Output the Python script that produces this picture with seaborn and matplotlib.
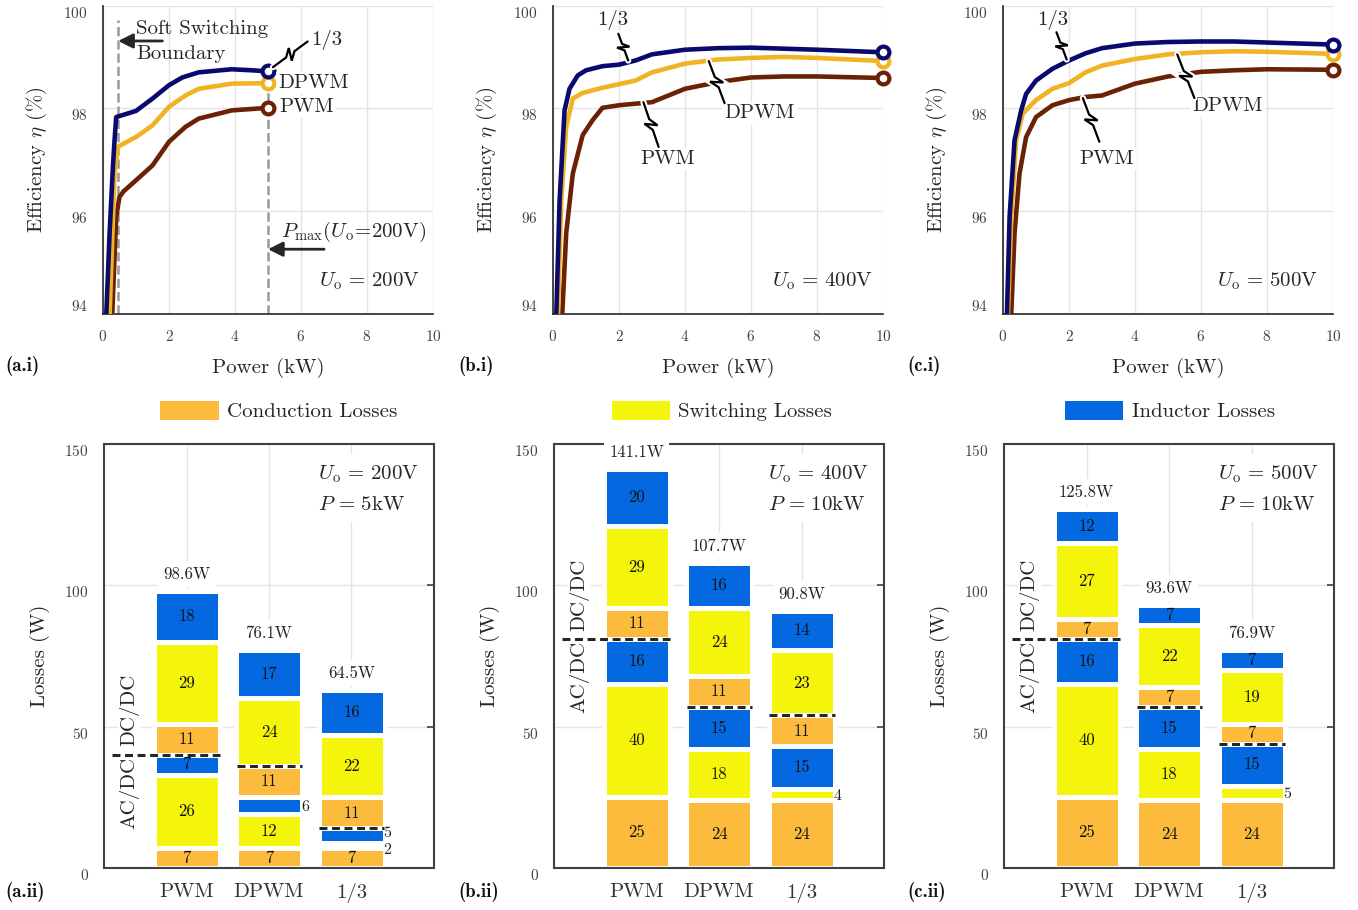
import numpy as np
import matplotlib
matplotlib.use('Agg')
import matplotlib.pyplot as plt
import matplotlib.patheffects as pe
from matplotlib.patches import Patch
import seaborn as sns

sns.set_style('white')
plt.rcParams['font.family'] = ['cmr10', 'DejaVu Serif']
plt.rcParams['mathtext.fontset'] = 'cm'
plt.rcParams['axes.formatter.use_mathtext'] = True
plt.rcParams['axes.unicode_minus'] = False

# ---------------- efficiency curves ----------------
p_a_13 = [0.1, 0.2, 0.3, 0.35, 0.4, 0.9, 1.0, 1.5, 2.0, 2.4, 2.9, 3.9, 4.5, 5.0]
eta_a_13 = [94.0, 95.57, 96.86, 97.38, 97.83, 97.93, 97.95, 98.19, 98.45, 98.6, 98.7, 98.76, 98.74, 98.72]
p_a_dpwm = [0.2, 0.35, 0.45, 0.9, 1.0, 1.5, 2.0, 2.5, 2.9, 3.9, 5.0]
eta_a_dpwm = [94.0, 96.73, 97.25, 97.41, 97.44, 97.67, 98.03, 98.25, 98.38, 98.48, 98.49]
p_a_pwm = [0.28, 0.4, 0.5, 0.63, 1.0, 1.5, 2.0, 2.5, 2.9, 3.9, 5.0]
eta_a_pwm = [94.0, 95.89, 96.28, 96.39, 96.6, 96.89, 97.35, 97.64, 97.8, 97.96, 98.01]

p_b_13 = [0.1, 0.2, 0.35, 0.5, 0.75, 1.0, 1.5, 2.0, 2.5, 3.0, 4, 5, 6, 7, 8, 10]
eta_b_13 = [94.0, 96.21, 97.96, 98.38, 98.64, 98.74, 98.82, 98.85, 98.93, 99.05, 99.14, 99.17, 99.18, 99.16, 99.14, 99.09]
p_b_dpwm = [0.15, 0.25, 0.4, 0.6, 0.9, 1.5, 2.0, 2.5, 3.0, 4, 5, 6, 7, 8, 10]
eta_b_dpwm = [94.0, 96.21, 97.64, 98.19, 98.3, 98.4, 98.47, 98.54, 98.7, 98.87, 98.95, 98.98, 99.0, 98.98, 98.92]
p_b_pwm = [0.28, 0.4, 0.6, 0.9, 1.2, 1.5, 2.0, 2.5, 3.0, 4, 5, 6, 7, 8, 10]
eta_b_pwm = [94.0, 95.57, 96.73, 97.48, 97.77, 98.01, 98.06, 98.09, 98.12, 98.38, 98.51, 98.6, 98.62, 98.62, 98.59]

p_c_13 = [0.12, 0.2, 0.35, 0.55, 0.7, 1.0, 1.5, 2.0, 2.5, 3.0, 4, 5, 6, 7, 8, 10]
eta_c_13 = [94.0, 95.89, 97.38, 97.96, 98.28, 98.54, 98.77, 98.93, 99.07, 99.17, 99.26, 99.29, 99.3, 99.3, 99.28, 99.24]
p_c_dpwm = [0.15, 0.25, 0.4, 0.6, 1.0, 1.5, 2.0, 2.5, 3.0, 4, 5, 6, 7, 8, 10]
eta_c_dpwm = [94.0, 95.89, 97.38, 97.9, 98.16, 98.38, 98.49, 98.7, 98.83, 98.96, 99.05, 99.09, 99.11, 99.1, 99.06]
p_c_pwm = [0.25, 0.35, 0.5, 0.7, 1.0, 1.5, 2.0, 2.5, 3.0, 4, 5, 6, 7, 8, 10]
eta_c_pwm = [94.0, 95.57, 96.73, 97.44, 97.83, 98.06, 98.16, 98.22, 98.25, 98.48, 98.62, 98.71, 98.74, 98.76, 98.75]

soft_boundary_kw = 0.46
pmax_kw = 5.0

# ---------------- loss breakdown (bottom -> top) ----------------
modes = ['PWM', 'DPWM', '1/3']
seg_kind = ['C', 'S', 'I', 'C', 'S', 'I']
loss_a = [[7, 26, 7, 11, 29, 18], [7, 12, 6, 11, 24, 17], [7, 2, 5, 11, 22, 16]]
loss_b = [[25, 40, 16, 11, 29, 20], [24, 18, 15, 11, 24, 16], [24, 4, 15, 11, 23, 14]]
loss_c = [[25, 40, 16, 7, 27, 12], [24, 18, 15, 7, 22, 7], [24, 5, 15, 7, 19, 7]]
total_a = [98.6, 76.1, 64.5]
total_b = [141.1, 107.7, 90.8]
total_c = [125.8, 93.6, 76.9]
split_a = [3, 4, 3]   # segments below the AC/DC | DC/DC line
split_b = [3, 3, 4]
split_c = [3, 3, 3]

navy, gold, brown = '#0A0A6E', '#F0B323', '#6B2204'
seg_colors = {'C': '#FDBB3E', 'S': '#F5F50C', 'I': '#0468E0'}
txt_c = '#262626'
grid_c = '#e4e4e4'
FS = 15

fig = plt.figure(figsize=(13.58, 9.10), dpi=100)
W, H = 1358, 910
top_axes = [fig.add_axes([l / W, 1 - 314 / H, 330 / W, 308.5 / H]) for l in (103, 553, 1003)]
bot_axes = [fig.add_axes([l / W, 1 - 868 / H, 330 / W, 424 / H]) for l in (104, 554, 1004)]

halo = [pe.withStroke(linewidth=4.5, foreground='white')]
wbox = dict(facecolor='white', edgecolor='none', pad=1.5)


def leader(ax, start, end, amp=6):
    tr = ax.transData
    (x0, y0), (x1, y1) = tr.transform([start, end])
    dx, dy = x1 - x0, y1 - y0
    L = np.hypot(dx, dy)
    nx, ny = -dy / L, dx / L
    pts = [(x0 + f * dx + o * nx, y0 + f * dy + o * ny)
           for f, o in [(0, 0), (0.38, 0), (0.56, amp), (0.44, -amp), (0.62, 0), (1, 0)]]
    d = tr.inverted().transform(pts)
    ax.plot(d[:, 0], d[:, 1], color='black', lw=1.6, zorder=6, path_effects=halo,
            solid_joinstyle='miter')


def setup_eff(ax):
    ax.set_xlim(0, 10)
    ax.set_ylim(94, 100)
    ax.set_xticks(range(0, 11, 2))
    ax.set_yticks([94, 96, 98, 100])
    ax.grid(True, color=grid_c, lw=1.0)
    ax.set_axisbelow(True)
    sns.despine(ax=ax)
    for s in ('left', 'bottom'):
        ax.spines[s].set_color(txt_c)
        ax.spines[s].set_linewidth(1.2)
    ax.tick_params(direction='in', length=5, width=1.2, color=txt_c,
                   labelsize=11, labelcolor='#444444', pad=11)
    ylabels = ax.get_yticklabels()
    plt.setp(ylabels, va='top')
    ylabels[0].set_va('bottom')
    ax.set_xlabel('Power (kW)', fontsize=FS, labelpad=10, color=txt_c)
    ax.set_ylabel(r'Efficiency $\eta$ (%)', fontsize=FS, labelpad=10, color=txt_c)


curves = [
    [(p_a_pwm, eta_a_pwm, brown), (p_a_dpwm, eta_a_dpwm, gold), (p_a_13, eta_a_13, navy)],
    [(p_b_pwm, eta_b_pwm, brown), (p_b_dpwm, eta_b_dpwm, gold), (p_b_13, eta_b_13, navy)],
    [(p_c_pwm, eta_c_pwm, brown), (p_c_dpwm, eta_c_dpwm, gold), (p_c_13, eta_c_13, navy)],
]

for ax, group in zip(top_axes, curves):
    setup_eff(ax)
    for p, eta, c in group:
        sns.lineplot(x=p, y=eta, ax=ax, color=c, lw=3.3, estimator=None, sort=False, zorder=3)
        ax.plot(p[-1], eta[-1], 'o', ms=8.5, mfc='white', mec=c, mew=3, zorder=4, clip_on=False)

# (a.i) annotations
ax = top_axes[0]
ax.plot([soft_boundary_kw, soft_boundary_kw], [94, 99.71], ls='--', color='#9a9a9a', lw=1.8, zorder=2)
ax.plot([pmax_kw, pmax_kw], [94, 98.6], ls='--', color='#9a9a9a', lw=1.8, zorder=2)
ax.annotate('', xy=(soft_boundary_kw, 99.31), xytext=(1.8, 99.31),
            arrowprops=dict(arrowstyle='-|>', color=txt_c, lw=2, mutation_scale=22, shrinkA=0, shrinkB=0))
ax.text(1.0, 99.55, 'Soft Switching', fontsize=FS, va='center', color=txt_c)
ax.text(1.0, 99.06, 'Boundary', fontsize=FS, va='center', color=txt_c)
ax.annotate('', xy=(pmax_kw, 95.26), xytext=(6.7, 95.26),
            arrowprops=dict(arrowstyle='-|>', color=txt_c, lw=2, mutation_scale=22, shrinkA=0, shrinkB=0))
ax.text(5.4, 95.6, r'$P_\mathrm{max}(U_\mathrm{o}\!=\!200\mathrm{V})$', fontsize=FS, va='center', color=txt_c)
ax.text(9.6, 94.63, r'$U_\mathrm{o}\,=\,200\mathrm{V}$', fontsize=FS, ha='right', va='center', color=txt_c)
leader(ax, (5.15, 98.8), (6.2, 99.3))
ax.text(6.3, 99.33, '1/3', fontsize=FS, va='center', color=txt_c)
ax.text(5.3, 98.49, 'DPWM', fontsize=FS, va='center', color=txt_c, bbox=wbox, zorder=5)
ax.text(5.35, 98.02, 'PWM', fontsize=FS, va='center', color=txt_c, bbox=wbox, zorder=5)

# (b.i) annotations
ax = top_axes[1]
ax.text(1.8, 99.71, '1/3', fontsize=FS, ha='center', va='center', color=txt_c)
leader(ax, (1.98, 99.45), (2.28, 98.93))
ax.text(5.18, 97.9, 'DPWM', fontsize=FS, va='center', color=txt_c, bbox=wbox, zorder=5)
leader(ax, (4.72, 98.92), (5.2, 98.1))
ax.text(3.47, 97.02, 'PWM', fontsize=FS, ha='center', va='center', color=txt_c, bbox=wbox, zorder=5)
leader(ax, (2.74, 98.12), (3.2, 97.25))
ax.text(9.7, 94.63, r'$U_\mathrm{o}\,=\,400\mathrm{V}$', fontsize=FS, ha='right', va='center', color=txt_c)

# (c.i) annotations
ax = top_axes[2]
ax.text(1.5, 99.71, '1/3', fontsize=FS, ha='center', va='center', color=txt_c)
leader(ax, (1.62, 99.48), (1.93, 98.95))
ax.text(5.74, 98.04, 'DPWM', fontsize=FS, va='center', color=txt_c, bbox=wbox, zorder=5)
leader(ax, (5.28, 99.05), (5.8, 98.2))
ax.text(3.13, 97.02, 'PWM', fontsize=FS, ha='center', va='center', color=txt_c, bbox=wbox, zorder=5)
leader(ax, (2.42, 98.2), (2.92, 97.35))
ax.text(9.55, 94.63, r'$U_\mathrm{o}\,=\,500\mathrm{V}$', fontsize=FS, ha='right', va='center', color=txt_c)


# ---------------- loss bars ----------------
def draw_losses(ax, losses, totals, splits, note):
    ax.set_xlim(0, 4)
    ax.set_ylim(0, 150)
    ax.set_xticks([1, 2, 3], modes)
    ax.set_yticks([0, 50, 100, 150])
    ax.grid(True, color=grid_c, lw=1.0)
    ax.set_axisbelow(True)
    for s in ax.spines.values():
        s.set_visible(True)
        s.set_color('#404040')
        s.set_linewidth(1.5)
    ax.tick_params(axis='y', direction='in', length=5, width=1.2, color='#404040', right=True,
                   labelsize=11, labelcolor='#444444', pad=11)
    ax.tick_params(axis='x', direction='in', length=0, labelsize=FS, labelcolor='#333333', pad=11)
    plt.setp(ax.get_yticklabels(), va='top')
    ax.set_ylabel('Losses (W)', fontsize=FS, labelpad=10, color=txt_c)

    for i, (vals, tot, sp) in enumerate(zip(losses, totals, splits)):
        x = i + 1
        vals = np.array(vals, dtype=float)
        bottoms = np.concatenate([[0], np.cumsum(vals)[:-1]])
        ax.bar(x, vals, bottom=bottoms, width=0.8, color=[seg_colors[k] for k in seg_kind],
               edgecolor='white', linewidth=3.6, zorder=2)
        outside = []
        for v, b in zip(vals, bottoms):
            if v > 6:
                ax.text(x, b + v / 2, f'{v:.0f}', fontsize=12, ha='center', va='center',
                        color='#111111', zorder=4)
            else:
                outside.append([b + v / 2 - 0.5, v])
        # keep small side labels apart
        for j in range(1, len(outside)):
            gap = outside[j][0] - outside[j - 1][0]
            if gap < 6.0:
                shift = (6.0 - gap) / 2
                outside[j - 1][0] -= shift
                outside[j][0] += shift
        for yl, v in outside:
            ax.text(x + 0.39, yl, f'{v:.0f}', fontsize=11.5, ha='left', va='center',
                    color='#222222', zorder=4)
        ax.text(x, vals.sum() + 3.2, f'{tot:.1f}W', fontsize=12, ha='center', va='bottom',
                color='#222222', bbox=dict(facecolor='white', edgecolor='none', pad=4), zorder=3)
        ysplit = vals[:sp].sum()
        x0 = 0.1 if i == 0 else x - 0.39
        ax.plot([x0, x + 0.4], [ysplit, ysplit], ls=(0, (2.6, 1.5)), color='#262626', lw=2.2, zorder=6)
        if i == 0:
            ax.text(0.31, ysplit - 0.8, 'AC/DC', rotation=90, fontsize=FS, ha='center', va='top',
                    color=txt_c, bbox=dict(facecolor='white', edgecolor='none', pad=1), zorder=3)
            ax.text(0.31, ysplit + 3.0, 'DC/DC', rotation=90, fontsize=FS, ha='center', va='bottom',
                    color=txt_c, bbox=dict(facecolor='white', edgecolor='none', pad=1), zorder=3)
    ax.text(2.6, 143, note, fontsize=FS, ha='left', va='top', color=txt_c, linespacing=1.75,
            bbox=dict(facecolor='white', edgecolor='none', pad=6), zorder=3)


draw_losses(bot_axes[0], loss_a, total_a, split_a,
            r'$U_\mathrm{o}\,=\,200\mathrm{V}$' + '\n' + r'$P\,=\,5\mathrm{kW}$')
draw_losses(bot_axes[1], loss_b, total_b, split_b,
            r'$U_\mathrm{o}\,=\,400\mathrm{V}$' + '\n' + r'$P\,=\,10\mathrm{kW}$')
draw_losses(bot_axes[2], loss_c, total_c, split_c,
            r'$U_\mathrm{o}\,=\,500\mathrm{V}$' + '\n' + r'$P\,=\,10\mathrm{kW}$')

# legend row
legend_items = [('Conduction Losses', 'C', 279), ('Switching Losses', 'S', 722), ('Inductor Losses', 'I', 1170)]
for name, k, cx in legend_items:
    fig.legend(handles=[Patch(facecolor=seg_colors[k], edgecolor='none', label=name)],
               loc='center', bbox_to_anchor=(cx / W, 1 - 411 / H), frameon=False,
               fontsize=FS, handlelength=2.8, handleheight=1.05, handletextpad=0.4,
               labelcolor=txt_c)

# panel tags
for tag, xp, yp in [('(a.i)', 5, 366), ('(b.i)', 458, 366), ('(c.i)', 907, 366),
                    ('(a.ii)', 5, 892), ('(b.ii)', 458, 892), ('(c.ii)', 907, 892)]:
    fig.text(xp / W, 1 - yp / H, tag, fontsize=13.5, fontfamily='cmb10', va='center', color='#111111')

fig.savefig('out.png', dpi=100)
